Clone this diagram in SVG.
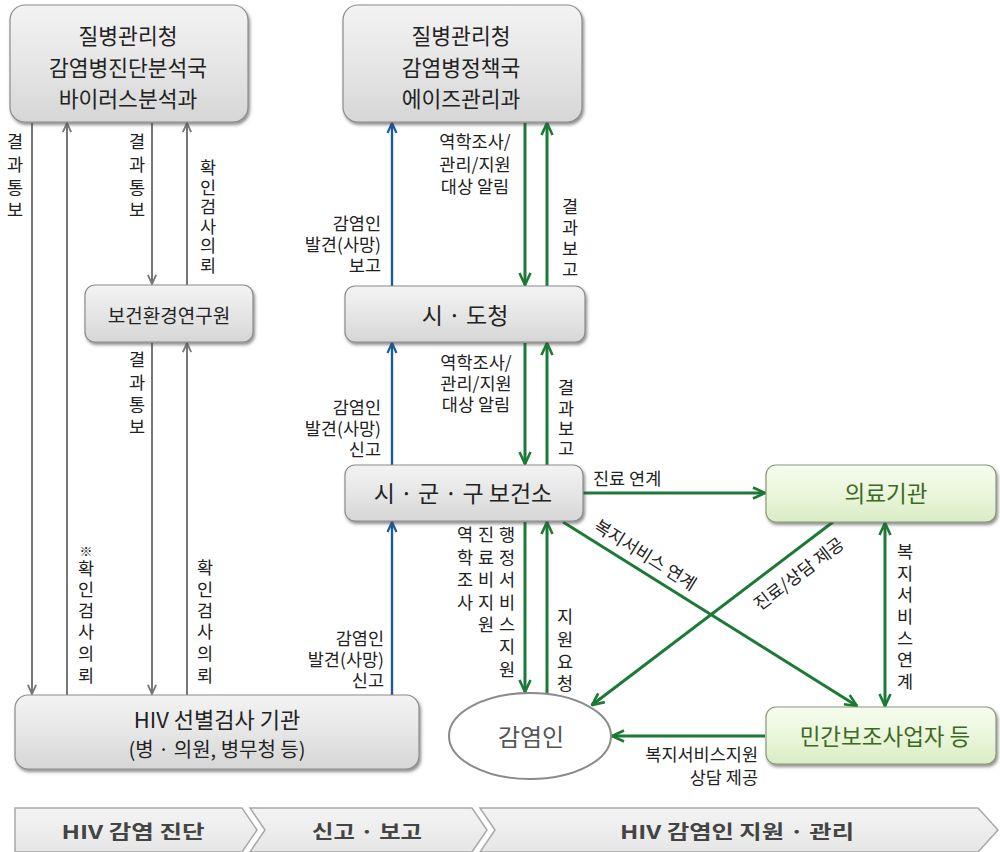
<svg xmlns="http://www.w3.org/2000/svg" width="1000" height="852" viewBox="0 0 1000 852">
<defs>
<linearGradient id="gGray" x1="0" y1="0" x2="0" y2="1">
<stop offset="0" stop-color="#f3f3f3"/><stop offset="0.5" stop-color="#e6e6e6"/><stop offset="1" stop-color="#d6d6d6"/>
</linearGradient>
<linearGradient id="gGreen" x1="0" y1="0" x2="0" y2="1">
<stop offset="0" stop-color="#f6fcee"/><stop offset="0.5" stop-color="#eaf6dc"/><stop offset="1" stop-color="#d9edc4"/>
</linearGradient>
<linearGradient id="gBar" x1="0" y1="0" x2="0" y2="1">
<stop offset="0" stop-color="#f4f4f4"/><stop offset="1" stop-color="#e6e6e6"/>
</linearGradient>
<filter id="sh" x="-10%" y="-10%" width="120%" height="130%">
<feDropShadow dx="1.5" dy="2.5" stdDeviation="1.5" flood-color="#444" flood-opacity="0.6"/>
</filter>
<marker id="aGray" viewBox="0 0 12 12" refX="11" refY="6" markerWidth="11" markerHeight="11" markerUnits="userSpaceOnUse" orient="auto-start-reverse">
<path d="M1,1.5 L11,6 L1,10.5" fill="none" stroke="#777" stroke-width="2"/>
</marker>
<marker id="aBlue" viewBox="0 0 12 12" refX="11" refY="6" markerWidth="12" markerHeight="12" markerUnits="userSpaceOnUse" orient="auto-start-reverse">
<path d="M1,1.5 L11,6 L1,10.5" fill="none" stroke="#1c5b98" stroke-width="2.2"/>
</marker>
<marker id="aGreen" viewBox="0 0 14 14" refX="13" refY="7" markerWidth="14" markerHeight="14" markerUnits="userSpaceOnUse" orient="auto-start-reverse">
<path d="M1,1.5 L13,7 L1,12.5" fill="none" stroke="#1b7a35" stroke-width="2.6"/>
</marker>
</defs>
<style>
text{font-family:"Noto Sans CJK KR","Noto Sans",sans-serif;dominant-baseline:central;}
.box{fill:url(#gGray);stroke:#8c8c8c;stroke-width:1.2;filter:url(#sh);}
.gbox{fill:url(#gGreen);stroke:#8a9a7c;stroke-width:1.2;filter:url(#sh);}
.t{font-size:21.5px;fill:#222;text-anchor:middle;}
.tg{font-size:22.5px;fill:#3d6a22;text-anchor:middle;}
.lb{font-size:17.5px;fill:#222;}
.m{text-anchor:middle;}
.e{text-anchor:end;}
.gray{stroke:#777;stroke-width:2;fill:none;marker-end:url(#aGray);}
.blue{stroke:#1c5b98;stroke-width:2.4;fill:none;marker-end:url(#aBlue);}
.green{stroke:#1b7a35;stroke-width:3;fill:none;marker-end:url(#aGreen);}
.bar{fill:url(#gBar);stroke:#a8a8a8;stroke-width:1.5;}
.bt{font-size:19px;font-weight:bold;fill:#444;text-anchor:middle;}
</style>

<g id="connectors">
<line class="gray" x1="32" y1="123" x2="32" y2="694"/>
<line class="gray" x1="67" y1="695" x2="67" y2="123"/>
<line class="gray" x1="152" y1="123" x2="152" y2="284"/>
<line class="gray" x1="187" y1="285" x2="187" y2="123"/>
<line class="gray" x1="152" y1="343" x2="152" y2="694"/>
<line class="gray" x1="187" y1="695" x2="187" y2="343"/>
<line class="blue" x1="392" y1="286" x2="392" y2="123"/>
<line class="blue" x1="392" y1="465" x2="392" y2="343"/>
<line class="blue" x1="392" y1="695" x2="392" y2="522"/>
<line class="green" x1="525" y1="123" x2="525" y2="285"/>
<line class="green" x1="547" y1="286" x2="547" y2="123"/>
<line class="green" x1="525" y1="343" x2="525" y2="464"/>
<line class="green" x1="547" y1="465" x2="547" y2="343"/>
<line class="green" x1="525" y1="522" x2="525" y2="692"/>
<line class="green" x1="547" y1="693" x2="547" y2="522"/>
<line class="green" x1="583" y1="493" x2="765" y2="493"/>
<line class="green" x1="563" y1="522" x2="857" y2="706"/>
<line class="green" x1="833" y1="522" x2="592" y2="705"/>
<line class="green" x1="885" y1="523" x2="885" y2="706" style="marker-start:url(#aGreen)"/>
<line class="green" x1="765" y1="736" x2="612" y2="736"/>

<g id="connector-labels">
<text class="lb m" x="15"><tspan x="15" y="140">결</tspan><tspan x="15" y="163">과</tspan><tspan x="15" y="186">통</tspan><tspan x="15" y="208">보</tspan></text>
<text class="lb m" x="137"><tspan x="137" y="140">결</tspan><tspan x="137" y="163">과</tspan><tspan x="137" y="186">통</tspan><tspan x="137" y="208">보</tspan></text>
<text class="lb m" x="208"><tspan x="208" y="166">확</tspan><tspan x="208" y="185.5">인</tspan><tspan x="208" y="205">검</tspan><tspan x="208" y="224.5">사</tspan><tspan x="208" y="244">의</tspan><tspan x="208" y="263.5">뢰</tspan></text>
<text class="lb m" x="137"><tspan x="137" y="358">결</tspan><tspan x="137" y="381">과</tspan><tspan x="137" y="403">통</tspan><tspan x="137" y="425">보</tspan></text>
<text class="lb m" x="86"><tspan x="86" y="550" style="font-size:13px">※</tspan><tspan x="86" y="567">확</tspan><tspan x="86" y="588">인</tspan><tspan x="86" y="609">검</tspan><tspan x="86" y="630">사</tspan><tspan x="86" y="652">의</tspan><tspan x="86" y="674">뢰</tspan></text>
<text class="lb m" x="205"><tspan x="205" y="566">확</tspan><tspan x="205" y="588">인</tspan><tspan x="205" y="609">검</tspan><tspan x="205" y="630">사</tspan><tspan x="205" y="652">의</tspan><tspan x="205" y="674">뢰</tspan></text>

<text class="lb e" x="381"><tspan x="381" y="222">감염인</tspan><tspan x="381" y="243">발견(사망)</tspan><tspan x="381" y="264">보고</tspan></text>
<text class="lb m" x="475"><tspan x="475" y="140">역학조사/</tspan><tspan x="475" y="163">관리/지원</tspan><tspan x="475" y="185">대상 알림</tspan></text>
<text class="lb m" x="570"><tspan x="570" y="205">결</tspan><tspan x="570" y="226">과</tspan><tspan x="570" y="247">보</tspan><tspan x="570" y="268">고</tspan></text>

<text class="lb e" x="381"><tspan x="381" y="406">감염인</tspan><tspan x="381" y="427">발견(사망)</tspan><tspan x="381" y="448">신고</tspan></text>
<text class="lb m" x="476"><tspan x="476" y="361">역학조사/</tspan><tspan x="476" y="382">관리/지원</tspan><tspan x="476" y="403">대상 알림</tspan></text>
<text class="lb m" x="566"><tspan x="566" y="386">결</tspan><tspan x="566" y="407">과</tspan><tspan x="566" y="427">보</tspan><tspan x="566" y="447">고</tspan></text>

<text class="lb e" x="384"><tspan x="384" y="637">감염인</tspan><tspan x="384" y="658">발견(사망)</tspan><tspan x="384" y="679">신고</tspan></text>
<text class="lb m" x="465"><tspan x="465" y="533">역</tspan><tspan x="465" y="556">학</tspan><tspan x="465" y="578">조</tspan><tspan x="465" y="601">사</tspan></text>
<text class="lb m" x="486"><tspan x="486" y="533">진</tspan><tspan x="486" y="556">료</tspan><tspan x="486" y="578">비</tspan><tspan x="486" y="601">지</tspan><tspan x="486" y="623">원</tspan></text>
<text class="lb m" x="507"><tspan x="507" y="533">행</tspan><tspan x="507" y="556">정</tspan><tspan x="507" y="578">서</tspan><tspan x="507" y="601">비</tspan><tspan x="507" y="623">스</tspan><tspan x="507" y="645">지</tspan><tspan x="507" y="668">원</tspan></text>
<text class="lb m" x="565"><tspan x="565" y="615">지</tspan><tspan x="565" y="638">원</tspan><tspan x="565" y="660">요</tspan><tspan x="565" y="682">청</tspan></text>

<text class="lb" x="593" y="477">진료 연계</text>
<text class="lb m" x="0" y="0" transform="translate(646,554) rotate(32)">복지서비스 연계</text>
<text class="lb m" x="0" y="0" transform="translate(798,573) rotate(-37)">진료/상담 제공</text>
<text class="lb m" x="905"><tspan x="905" y="550">복</tspan><tspan x="905" y="572">지</tspan><tspan x="905" y="593">서</tspan><tspan x="905" y="615">비</tspan><tspan x="905" y="637">스</tspan><tspan x="905" y="658">연</tspan><tspan x="905" y="680">계</tspan></text>
<text class="lb e" x="758"><tspan x="758" y="753">복지서비스지원</tspan><tspan x="758" y="776">상담 제공</tspan></text>
</g>
</g>

<g id="node-kdca-lab">
<rect class="box" x="10" y="5" width="238" height="117" rx="15"/>
<text class="t" x="128" y="34">질병관리청</text>
<text class="t" x="128" y="66">감염병진단분석국</text>
<text class="t" x="128" y="97">바이러스분석과</text>
</g>
<g id="node-kdca-aids">
<rect class="box" x="343" y="5" width="239" height="117" rx="15"/>
<text class="t" x="461" y="34">질병관리청</text>
<text class="t" x="461" y="66">감염병정책국</text>
<text class="t" x="461" y="97">에이즈관리과</text>
</g>
<g id="node-institute">
<rect class="box" x="85" y="285" width="168" height="57" rx="10"/>
<text class="t" x="169" y="314" style="font-size:19px">보건환경연구원</text>
</g>
<g id="node-province">
<rect class="box" x="345" y="286" width="240" height="56" rx="10"/>
<text class="t" x="465" y="314" style="font-size:23px">시 · 도청</text>
</g>
<g id="node-health-center">
<rect class="box" x="345" y="465" width="238" height="56" rx="10"/>
<text class="t" x="463" y="492" style="font-size:23px">시 · 군 · 구 보건소</text>
</g>
<g id="node-screening">
<rect class="box" x="15" y="695" width="404" height="74" rx="13"/>
<text class="t" x="217" y="718" style="font-size:22px">HIV 선별검사 기관</text>
<text class="t" x="217" y="748" style="font-size:20px">(병 · 의원, 병무청 등)</text>
</g>
<g id="node-medical">
<rect class="gbox" x="766" y="465" width="230" height="57" rx="10"/>
<text class="tg" x="886" y="492">의료기관</text>
</g>
<g id="node-private">
<rect class="gbox" x="766" y="707" width="230" height="57" rx="10"/>
<text class="tg" x="885" y="735">민간보조사업자 등</text>
</g>
<g id="node-patient">
<ellipse cx="530" cy="736" rx="81" ry="43" fill="#fff" stroke="#8a8a8a" stroke-width="2"/>
<text class="t" x="531" y="735" style="font-size:24px;fill:#555">감염인</text>
</g>

<g id="stage-bar">
<path class="bar" d="M15,808 L242,808 L257,830 L242,852 L15,852 Z"/>
<path class="bar" d="M250,808 L472,808 L487,830 L472,852 L250,852 L265,830 Z"/>
<path class="bar" d="M480,808 L978,808 L998,830 L978,852 L480,852 L495,830 Z"/>
<text class="bt" x="133" y="830" textLength="143" lengthAdjust="spacingAndGlyphs">HIV 감염 진단</text>
<text class="bt" x="367" y="830" textLength="110" lengthAdjust="spacingAndGlyphs">신고 · 보고</text>
<text class="bt" x="737" y="830" textLength="234" lengthAdjust="spacingAndGlyphs">HIV 감염인 지원 · 관리</text>
</g>
</svg>
